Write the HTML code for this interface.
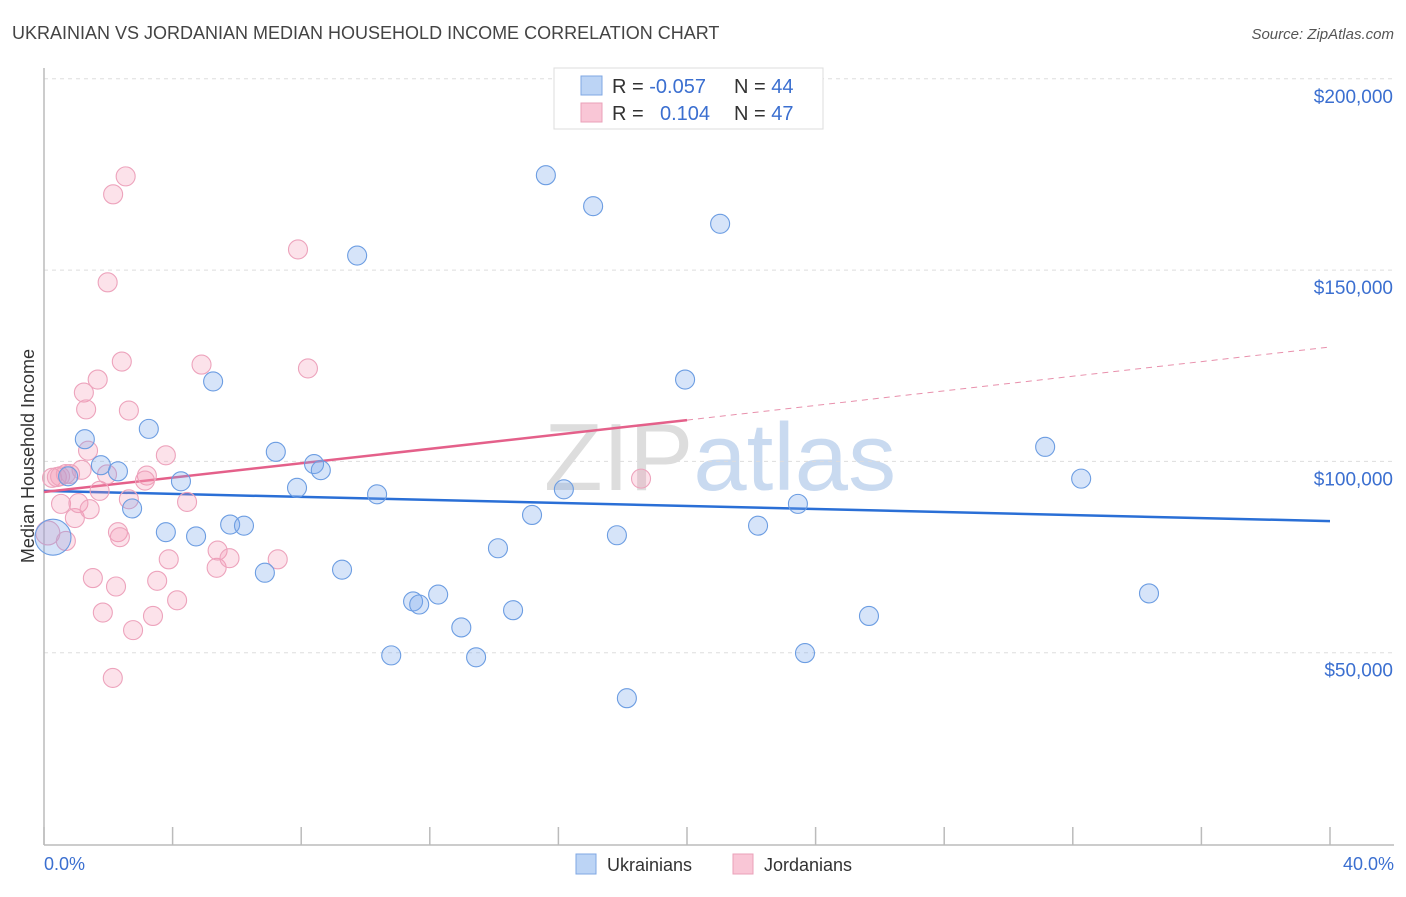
<!DOCTYPE html>
<html><head><meta charset="utf-8"><style>
body{margin:0;background:#fff;font-family:"Liberation Sans",sans-serif}
svg text{font-family:"Liberation Sans",sans-serif}
</style></head><body>
<svg id="chart" width="1406" height="892" xmlns="http://www.w3.org/2000/svg">
<text x="12" y="39" font-size="18" fill="#444">UKRAINIAN VS JORDANIAN MEDIAN HOUSEHOLD INCOME CORRELATION CHART</text>
<text x="1394" y="39" font-size="15" fill="#555" text-anchor="end" font-style="italic">Source: ZipAtlas.com</text>
<text x="720" y="490" font-size="96" fill="#ddd" text-anchor="middle" font-family="Liberation Serif">ZIP<tspan fill="#c9daf0" font-family="Liberation Sans">atlas</tspan></text>
<g id="grid"></g>
<line x1="44" y1="68" x2="44" y2="845" stroke="#bbb" stroke-width="1.5"/>
<line x1="44" y1="845" x2="1394" y2="845" stroke="#bbb" stroke-width="1.5"/>
<g id="xticks"></g>
<g id="ylabels"></g>
<text x="44" y="870" font-size="18" fill="#3b6fd0">0.0%</text>
<text x="1394" y="870" font-size="18" fill="#3b6fd0" text-anchor="end">40.0%</text>
<text transform="translate(34,456) rotate(-90)" font-size="18" fill="#333" text-anchor="middle">Median Household Income</text>
<g id="trends"></g>
<g id="pts"></g>
<g>
<rect x="554" y="68" width="269" height="61" fill="#fff" stroke="#ddd"/>
<rect x="581" y="76" width="21" height="19" fill="#bcd4f5" stroke="#7fa7e3"/>
<rect x="581" y="103" width="21" height="19" fill="#f9c6d6" stroke="#eaa0b8"/>
<text x="612" y="93" font-size="20" fill="#333">R = <tspan fill="#3b6fd0">-0.057</tspan><tspan x="734">N = </tspan><tspan fill="#3b6fd0">44</tspan></text>
<text x="612" y="120" font-size="20" fill="#333">R = <tspan x="660" fill="#3b6fd0">0.104</tspan><tspan x="734">N = </tspan><tspan fill="#3b6fd0">47</tspan></text>
</g>
<g>
<rect x="576" y="854" width="20" height="20" fill="#bcd4f5" stroke="#7fa7e3"/>
<text x="607" y="871" font-size="18" fill="#333">Ukrainians</text>
<rect x="733" y="854" width="20" height="20" fill="#f9c6d6" stroke="#eaa0b8"/>
<text x="764" y="871" font-size="18" fill="#333">Jordanians</text>
</g>
</svg>
<script>
const yTicks=[50000,100000,150000,200000];
const yTickLabels=["$50,000","$100,000","$150,000","$200,000"];
const xTickPcts=[0,4,8,12,16,20,24,28,32,36,40];
const blueX=[0.28,0.75,1.27,1.77,2.3,2.74,3.26,3.79,4.26,4.73,5.26,5.79,6.22,6.87,7.21,7.87,8.4,8.61,9.27,9.74,10.36,10.8,11.48,11.67,12.26,12.98,13.44,14.12,14.59,15.18,15.61,16.17,17.08,17.82,18.13,19.94,21.03,22.21,23.45,23.67,25.66,31.14,32.26,34.37];
const blueY=[80200,96100,105800,99000,97400,87700,108500,81500,94800,80400,120900,83500,83200,70900,102500,93100,99300,97700,71700,153800,91400,49300,63400,62600,65200,56600,48800,77300,61100,86000,174800,92700,166700,80700,38100,121400,162100,83200,88900,49900,59600,103800,95500,65500];
const pinkX=[0.12,0.25,0.4,0.53,0.68,0.81,0.96,1.07,1.17,1.24,1.31,1.37,1.42,1.52,1.67,1.73,1.83,1.98,2.15,2.14,2.24,2.3,2.36,2.42,2.54,2.64,2.64,2.77,3.2,3.39,3.52,3.79,3.88,4.14,4.45,4.9,5.37,5.4,5.77,7.27,7.9,8.21,18.57,0.5,0.68,1.96,3.14];
const pinkY=[81300,95700,95900,88900,79200,96700,85200,89100,97800,118000,113600,102800,87500,69500,121400,92300,60500,146800,169800,43400,67300,81500,80200,126100,174500,90100,113300,55900,96300,59600,68800,101600,74400,63700,89400,125300,72200,76700,74700,74400,155400,124300,95500,96100,96700,96600,95000];
// trend lines: [x%, income] endpoints
const blueTrendX=[0,40];
const blueTrendY=[92300,84400];
const pinkTrendX=[0,20,40];
const pinkTrendY=[92000,110800,129900];
const SVGNS="http://www.w3.org/2000/svg";
const X0=44,X1=1330,Y0=844,YK=191.3/50000;
const xs=p=>X0+(X1-X0)*p/40, ys=v=>Y0-v*YK;
function mk(tag,attrs,parent){const e=document.createElementNS(SVGNS,tag);for(const k in attrs)e.setAttribute(k,attrs[k]);parent.appendChild(e);return e;}
const grid=document.getElementById('grid'),yl=document.getElementById('ylabels'),xt=document.getElementById('xticks');
yTicks.forEach((v,i)=>{
 const l=mk('line',{x1:44,x2:1394,y1:ys(v),y2:ys(v),stroke:'#ddd','stroke-dasharray':'4,4'},grid);
 
 
 const t=mk('text',{x:1393,y:ys(v)+24,'font-size':19,fill:'#3b6fd0','text-anchor':'end'},yl);
 t.textContent=yTickLabels[i];
 
 
});
xTickPcts.forEach(p=>{
 const l=mk('line',{x1:xs(p),x2:xs(p),y1:827,y2:845,stroke:'#bbb','stroke-width':1.5},xt);
 
 
});
const tr=document.getElementById('trends');
const bl=mk('line',{x1:xs(blueTrendX[0]),y1:ys(blueTrendY[0]),x2:xs(blueTrendX[1]),y2:ys(blueTrendY[1]),stroke:'#2a6fd6','stroke-width':2.5},tr);


const pl=mk('line',{x1:xs(pinkTrendX[0]),y1:ys(pinkTrendY[0]),x2:xs(pinkTrendX[1]),y2:ys(pinkTrendY[1]),stroke:'#e4608a','stroke-width':2.5},tr);


const pd=mk('line',{x1:xs(pinkTrendX[1]),y1:ys(pinkTrendY[1]),x2:xs(pinkTrendX[2]),y2:ys(pinkTrendY[2]),stroke:'#e890ac','stroke-width':1,'stroke-dasharray':'6,5'},tr);


const pts=document.getElementById('pts');
pinkX.forEach((x,i)=>{
 const c=mk('circle',{cx:xs(x),cy:ys(pinkY[i]),r:i===0?12:9.5,fill:'rgba(244,150,180,0.28)',stroke:'#eda3bc','stroke-width':1.1},pts);
 
 
});
blueX.forEach((x,i)=>{
 const c=mk('circle',{cx:xs(x),cy:ys(blueY[i]),r:i===0?18:9.5,fill:'rgba(120,165,235,0.3)',stroke:'#6c9de2','stroke-width':1.1},pts);
 
 
});
</script>
</body></html>
